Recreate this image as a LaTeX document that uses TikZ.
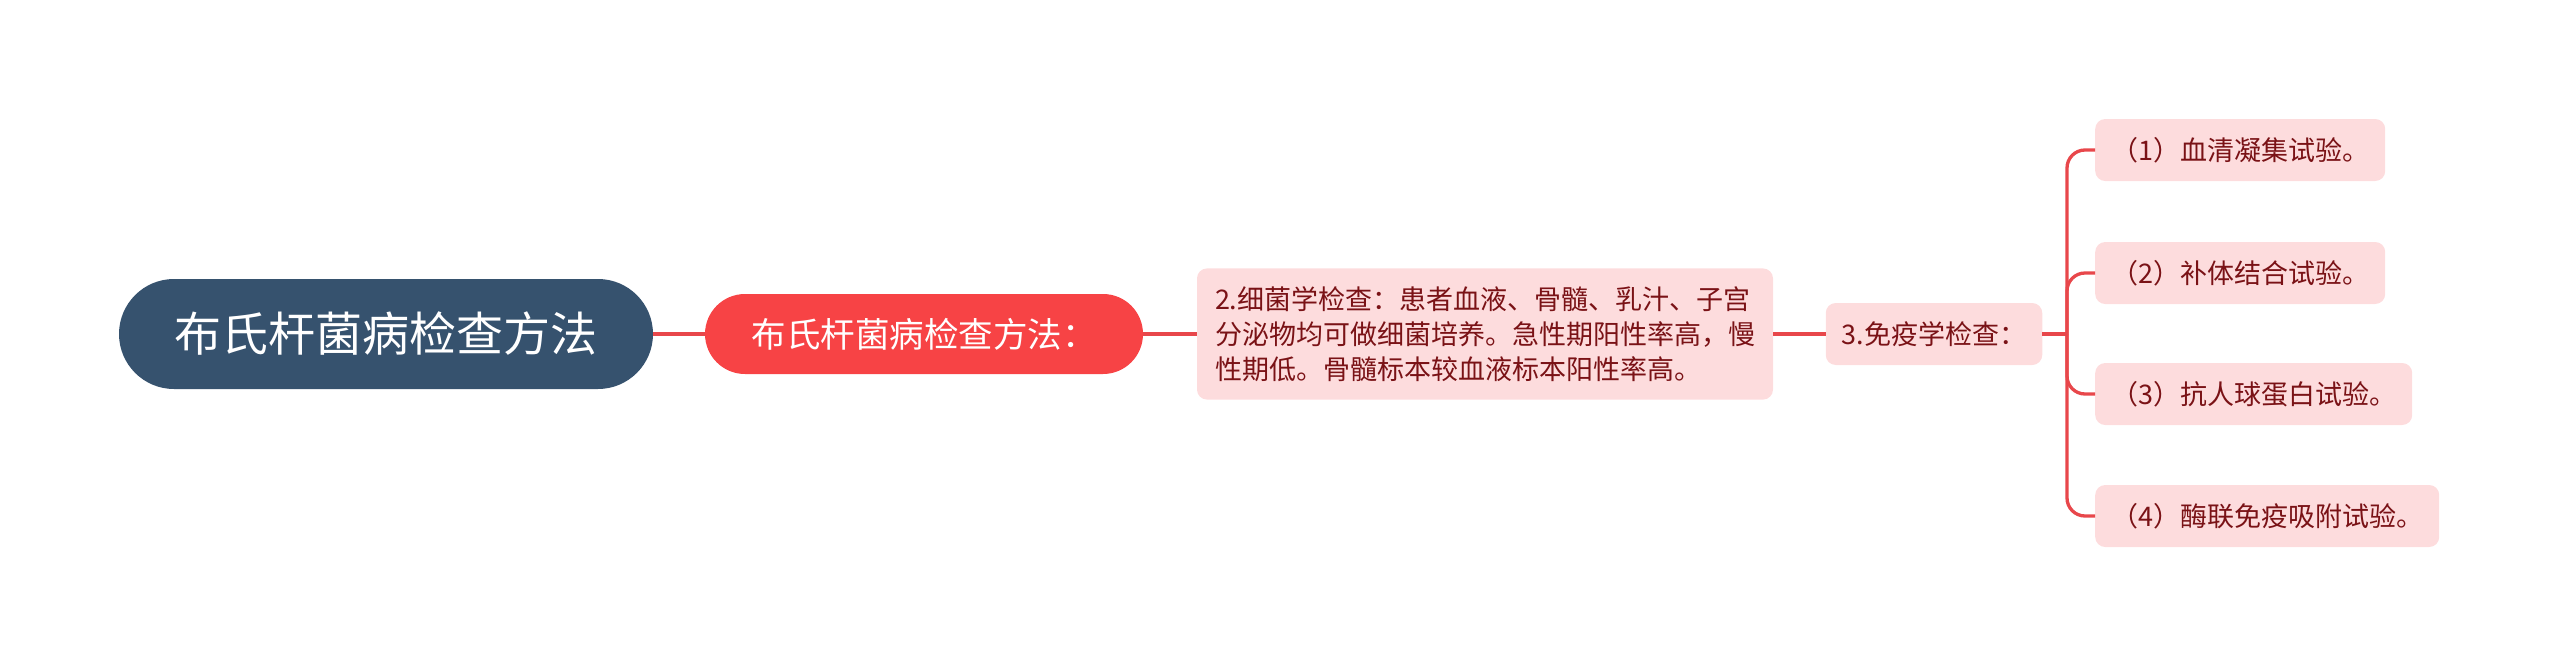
\documentclass[tikz,border=0pt]{standalone}
\usepackage{fontspec}
\newfontfamily\cjk{Noto Sans CJK SC}
\definecolor{rootc}{HTML}{36526E}
\definecolor{redc}{HTML}{F74345}
\definecolor{pinkc}{HTML}{FDDCDD}
\definecolor{txtc}{HTML}{7A1216}
\definecolor{linec}{HTML}{E8474B}
\begin{document}
\begin{tikzpicture}[x=1pt,y=-1pt,
  rootbox/.style={fill=rootc,text=white,rounded corners=55pt,minimum width=534pt,minimum height=110pt,inner sep=0pt,font=\cjk\fontsize{47}{52}\selectfont},
  redbox/.style={fill=redc,text=white,rounded corners=40pt,minimum width=438pt,minimum height=80pt,inner sep=0pt,font=\cjk\fontsize{34.5}{38}\selectfont},
  pinkbox/.style={fill=pinkc,text=txtc,rounded corners=10pt,inner xsep=16pt,inner ysep=8pt,minimum height=62pt,font=\cjk\fontsize{27}{35}\selectfont},
  conn/.style={draw=linec,line width=3.3pt}]
\useasboundingbox (0,0) rectangle (2560,667);
\node[rootbox] (root) at (386,334) {布氏杆菌病检查方法};
\node[redbox] (n2) at (924,334) {布氏杆菌病检查方法：};
\node[pinkbox,align=left,inner xsep=18pt,inner ysep=18pt] (n3) at (1485,334) {2.细菌学检查：患者血液、骨髓、乳汁、子宫\\分泌物均可做细菌培养。急性期阳性率高，慢\\性期低。骨髓标本较血液标本阳性率高。};
\node[pinkbox] (n4) at (1934,334) {3.免疫学检查：};
\node[pinkbox,anchor=west] (l1) at (2095,150) {（1）血清凝集试验。};
\node[pinkbox,anchor=west] (l2) at (2095,273) {（2）补体结合试验。};
\node[pinkbox,anchor=west] (l3) at (2095,394) {（3）抗人球蛋白试验。};
\node[pinkbox,anchor=west] (l4) at (2095,516) {（4）酶联免疫吸附试验。};
\coordinate (b) at (2067,334);
\draw[conn] (root.east) -- (n2.west);
\draw[conn] (n2.east) -- (n3.west);
\draw[conn] (n3.east) -- (n4.west);
\draw[conn] (n4.east) -- (b);
\foreach \l in {l1,l2,l3,l4}{\draw[conn,rounded corners=18pt] (b) |- (\l.west);}
\end{tikzpicture}
\end{document}
